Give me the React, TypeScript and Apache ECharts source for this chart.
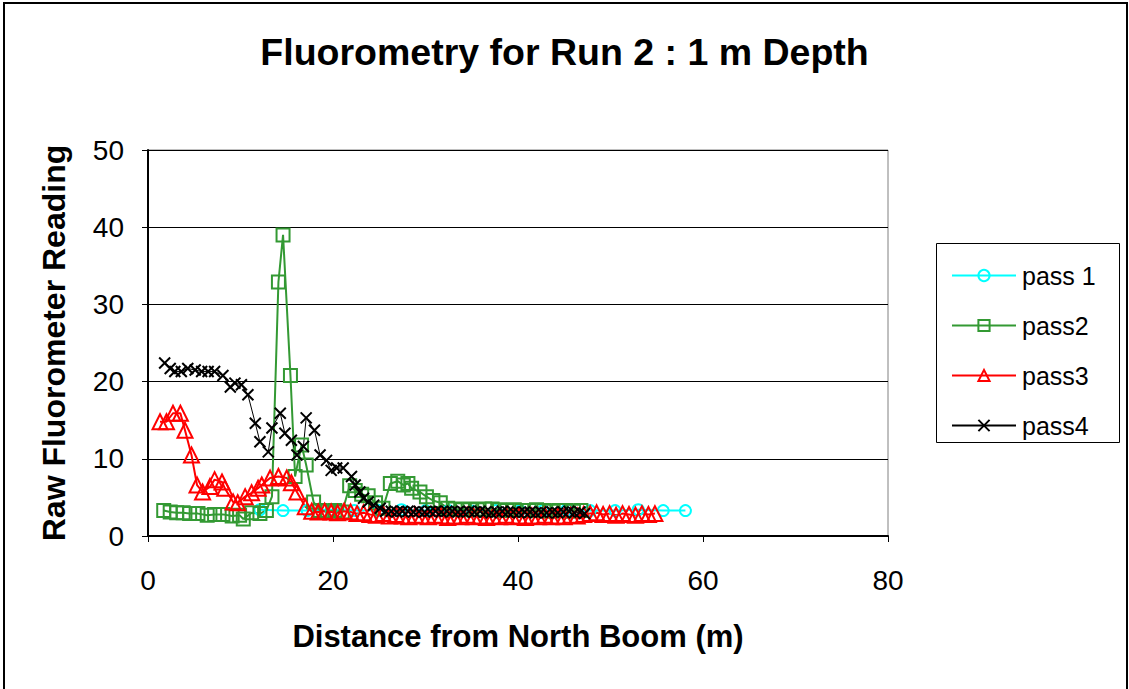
import React, { useEffect, useRef } from "react";
import * as echarts from "echarts";

const titleText = "Fluorometry for Run 2 : 1 m Depth";
const xAxisTitle = "Distance from North Boom (m)";
const yAxisTitle = "Raw Fluorometer Reading";
const seriesNames = ["pass 1", "pass2", "pass3", "pass4"];

const pass1X = [12.1, 14.6, 17.2, 19.8, 22.3, 24.9, 27.4, 30.0, 32.5, 35.1, 37.6, 40.2, 42.7, 45.3, 47.8, 50.5, 53.0, 55.7, 58.1];
const pass1Y = [3.4, 3.3, 3.3, 3.4, 3.3, 3.3, 3.4, 3.3, 3.3, 3.2, 3.3, 3.3, 3.3, 3.4, 3.3, 3.3, 3.4, 3.3, 3.3];

const pass2X = [1.7, 2.4, 3.1, 3.8, 4.5, 5.4, 6.4, 7.2, 8.1, 9.1, 9.9, 10.3, 11.2, 12.1, 12.8, 13.4, 14.1, 14.6, 15.4, 15.9, 16.6, 17.1, 17.9, 18.6, 19.4, 20.2, 21.0, 21.8, 22.4, 23.1, 23.8, 24.6, 25.4, 26.2, 27.0, 27.6, 28.1, 28.5, 29.4, 30.1, 30.8, 31.6, 32.4, 33.2, 34.0, 34.8, 35.6, 36.4, 37.2, 38.0, 38.8, 39.6, 40.4, 41.2, 42.0, 42.8, 43.6, 44.4, 45.2, 46.0, 46.8];
const pass2Y = [3.3, 3.1, 3.0, 3.0, 2.9, 2.9, 2.7, 2.8, 2.8, 2.6, 2.7, 2.2, 3.0, 2.9, 3.3, 5.1, 32.9, 39.0, 20.8, 7.7, 11.8, 9.2, 4.4, 3.3, 3.2, 3.3, 3.1, 6.5, 5.9, 5.4, 5.2, 4.3, 3.6, 6.8, 7.1, 6.6, 6.8, 6.2, 5.7, 5.1, 4.6, 4.3, 3.6, 3.5, 3.4, 3.5, 3.4, 3.5, 3.5, 3.4, 3.3, 3.4, 3.3, 3.3, 3.4, 3.3, 3.2, 3.3, 3.3, 3.2, 3.3];

const pass3X = [1.3, 2.0, 2.7, 3.5, 4.0, 4.7, 5.3, 5.9, 6.7, 7.2, 8.0, 8.3, 9.2, 9.7, 10.5, 11.2, 11.9, 12.3, 13.2, 14.1, 15.0, 15.5, 16.1, 17.0, 17.7, 18.4, 19.1, 19.8, 20.5, 21.2, 21.9, 22.6, 23.3, 24.0, 24.7, 25.4, 26.1, 26.8, 27.5, 28.2, 28.9, 29.6, 30.3, 31.0, 31.7, 32.4, 33.1, 33.8, 34.5, 35.2, 35.9, 36.6, 37.3, 38.0, 38.7, 39.4, 40.1, 40.8, 41.5, 42.2, 42.9, 43.6, 44.3, 45.0, 45.7, 46.4, 47.1, 47.8, 48.5, 49.2, 49.9, 50.6, 51.3, 52.0, 52.7, 53.4, 54.1, 54.8];
const pass3Y = [14.8, 14.8, 15.9, 15.9, 13.7, 10.5, 6.6, 5.7, 6.4, 7.3, 7.0, 6.2, 4.4, 4.3, 5.1, 5.6, 6.2, 6.6, 7.5, 7.7, 7.5, 6.9, 5.7, 3.8, 3.2, 3.1, 3.2, 3.1, 3.0, 3.2, 3.1, 2.9, 3.0, 2.8, 2.7, 2.9, 2.6, 2.8, 2.6, 2.5, 2.7, 2.6, 2.5, 2.7, 2.6, 2.4, 2.6, 2.5, 2.7, 2.5, 2.6, 2.4, 2.6, 2.5, 2.7, 2.5, 2.6, 2.4, 2.6, 2.5, 2.7, 2.5, 2.6, 2.5, 2.7, 2.6, 2.8, 2.9, 3.0, 2.8, 2.9, 2.7, 2.9, 2.8, 2.7, 2.9, 2.8, 2.9];

const pass4X = [1.8, 2.4, 2.9, 3.6, 4.3, 5.1, 5.8, 6.5, 7.2, 8.1, 8.9, 9.4, 10.1, 10.8, 11.6, 12.1, 13.0, 13.4, 14.3, 14.8, 15.5, 16.1, 16.8, 17.1, 18.0, 18.6, 19.3, 19.8, 20.4, 21.1, 22.0, 22.4, 22.9, 23.3, 23.8, 24.4, 25.1, 25.7, 26.3, 26.9, 27.5, 28.1, 28.7, 29.3, 29.9, 30.5, 31.1, 31.7, 32.3, 32.9, 33.5, 34.1, 34.7, 35.3, 35.9, 36.5, 37.1, 37.7, 38.3, 38.9, 39.5, 40.1, 40.7, 41.3, 41.9, 42.5, 43.1, 43.7, 44.3, 44.9, 45.5, 46.1, 46.7, 47.2];
const pass4Y = [22.4, 21.7, 21.3, 21.3, 21.7, 21.5, 21.3, 21.3, 21.3, 20.8, 19.3, 19.8, 19.6, 18.3, 14.6, 12.2, 10.9, 14.0, 15.9, 13.3, 12.4, 10.5, 11.6, 15.3, 13.7, 10.5, 9.8, 8.5, 8.8, 8.8, 7.7, 6.6, 5.7, 4.9, 4.4, 4.0, 3.6, 3.2, 3.2, 3.1, 3.2, 3.2, 3.1, 3.2, 3.1, 3.2, 3.2, 3.1, 3.2, 3.2, 3.1, 3.1, 3.2, 3.1, 3.2, 3.1, 3.0, 3.1, 3.2, 3.1, 3.1, 3.0, 3.1, 3.1, 3.0, 3.1, 3.0, 3.1, 3.0, 3.1, 3.2, 3.0, 3.1, 2.9];

const xTicks = { min: 0, max: 80, interval: 20 };
const yTicks = { min: 0, max: 50, interval: 10 };

const colors = ["#00FFFF", "#339933", "#FF0000", "#000000"];
const symbols = ["circle", "rect", "triangle", "path://M0,0L10,10M0,10L10,0"];
const symbolSizes = [11, 13, 15, 11];
const lineWidths = [2, 2, 2, 1];

const FONT = "'Liberation Sans', Arial, sans-serif";

function zip(xs: number[], ys: number[]) {
  return xs.map((x, i) => [x, ys[i]]);
}

export default function App() {
  const ref = useRef<HTMLDivElement>(null);
  useEffect(() => {
    if (!ref.current) return;
    const chart = echarts.init(ref.current, null, { renderer: "svg" });
    const datasets = [zip(pass1X, pass1Y), zip(pass2X, pass2Y), zip(pass3X, pass3Y), zip(pass4X, pass4Y)];
    chart.setOption({
      animation: false,
      backgroundColor: "#ffffff",
      title: {
        text: titleText,
        left: "center",
        top: 28,
        textStyle: { fontFamily: FONT, fontWeight: "bold", fontSize: 37.5, color: "#000" },
      },
      grid: {
        left: 148,
        top: 150,
        right: 241,
        bottom: 153,
        show: true,
        borderColor: "#808080",
        borderWidth: 1,
        backgroundColor: "transparent",
      },
      legend: {
        orient: "vertical",
        left: 946,
        top: 258,
        itemWidth: 64,
        itemHeight: 14,
        itemGap: 25,
        data: seriesNames,
        textStyle: { fontFamily: FONT, fontSize: 25, color: "#000", lineHeight: 25, padding: [0, 0, 0, 1] },
      },
      xAxis: {
        type: "value",
        min: xTicks.min,
        max: xTicks.max,
        interval: xTicks.interval,
        name: xAxisTitle,
        nameLocation: "middle",
        nameGap: 85,
        nameTextStyle: { fontFamily: FONT, fontWeight: "bold", fontSize: 31, color: "#000" },
        axisLine: { show: true, onZero: false, lineStyle: { color: "#000", width: 2 } },
        axisTick: { show: true, inside: false, length: 6, lineStyle: { color: "#000", width: 1 } },
        axisLabel: { fontFamily: FONT, fontSize: 28, color: "#000", margin: 30 },
        splitLine: { show: false },
      },
      yAxis: {
        type: "value",
        min: yTicks.min,
        max: yTicks.max,
        interval: yTicks.interval,
        name: yAxisTitle,
        nameLocation: "middle",
        nameGap: 78,
        nameRotate: 90,
        nameTextStyle: { fontFamily: FONT, fontWeight: "bold", fontSize: 32, color: "#000" },
        axisLine: { show: true, lineStyle: { color: "#000", width: 2 } },
        axisTick: { show: true, inside: false, length: 6, lineStyle: { color: "#000", width: 1 } },
        axisLabel: { fontFamily: FONT, fontSize: 28, color: "#000", margin: 24 },
        splitLine: { show: true, lineStyle: { color: "#000", width: 1 } },
      },
      graphic: [
        {
          type: "rect",
          shape: { x: 4, y: 3, width: 1123, height: 700 },
          style: { fill: "none", stroke: "#000", lineWidth: 2 },
          silent: true,
          z: 100,
        },
        {
          type: "rect",
          shape: { x: 936.5, y: 243.5, width: 183, height: 199 },
          style: { fill: "none", stroke: "#000", lineWidth: 1 },
          silent: true,
          z: 100,
        },
      ],
      series: seriesNames.map((name, i) => ({
        name,
        type: "line",
        data: datasets[i],
        symbol: symbols[i],
        symbolSize: symbolSizes[i],
        showSymbol: true,
        showAllSymbol: true,
        lineStyle: { color: colors[i], width: lineWidths[i] },
        itemStyle: { color: "rgba(0,0,0,0)", borderColor: colors[i], borderWidth: 2 },
        emphasis: { disabled: true },
      })),
    });
    return () => chart.dispose();
  }, []);
  return (
    <div
      ref={ref}
      style={{ position: "absolute", left: 0, top: 0, width: 1129, height: 689, background: "#fff" }}
    />
  );
}
